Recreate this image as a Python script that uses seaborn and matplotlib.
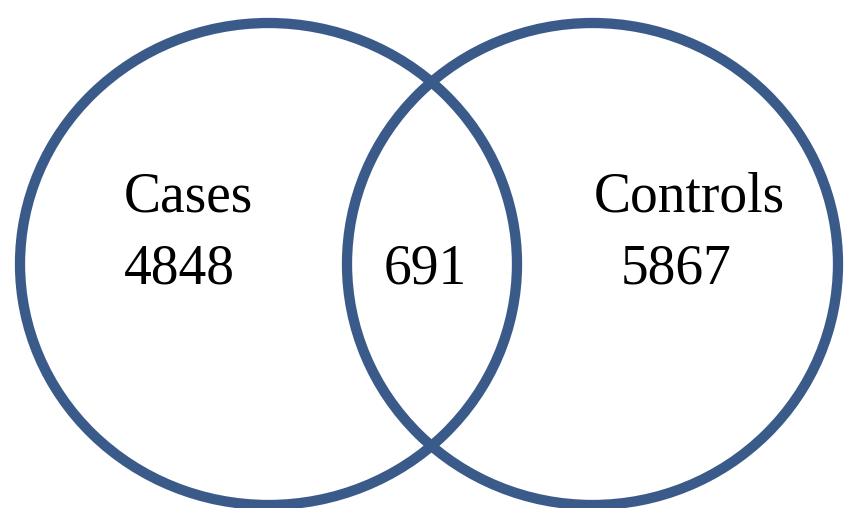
import matplotlib
matplotlib.use("Agg")
import matplotlib.pyplot as plt
from matplotlib.patches import Ellipse
import seaborn as sns

# Data
set_names = ["Cases", "Controls"]
only_counts = [4848, 5867]
overlap_count = 691

sns.set_theme(style="white")
plt.rcParams["font.family"] = ["Liberation Serif", "DejaVu Serif"]

fig = plt.figure(figsize=(8.45, 5.08), dpi=100)
ax = fig.add_axes([0, 0, 1, 1])
ax.set_xlim(0, 845)
ax.set_ylim(508, 0)
ax.axis("off")

edge = "#3A5A8A"
lw = 7.4
for cx, w in [(268.5, 497), (592.5, 491)]:
    ax.add_patch(Ellipse((cx, 264), w, 482, fill=False, edgecolor=edge, linewidth=lw))

fs = 40
ax.text(124, 212, set_names[0], fontsize=fs, ha="left", va="baseline", color="black")
ax.text(124, 283, str(only_counts[0]), fontsize=fs, ha="left", va="baseline", color="black")
ax.text(384, 283, str(overlap_count), fontsize=fs, ha="left", va="baseline", color="black")
ax.text(594, 212, set_names[1], fontsize=fs, ha="left", va="baseline", color="black")
ax.text(621, 283, str(only_counts[1]), fontsize=fs, ha="left", va="baseline", color="black")

fig.savefig("out.png", dpi=100, facecolor="white")
